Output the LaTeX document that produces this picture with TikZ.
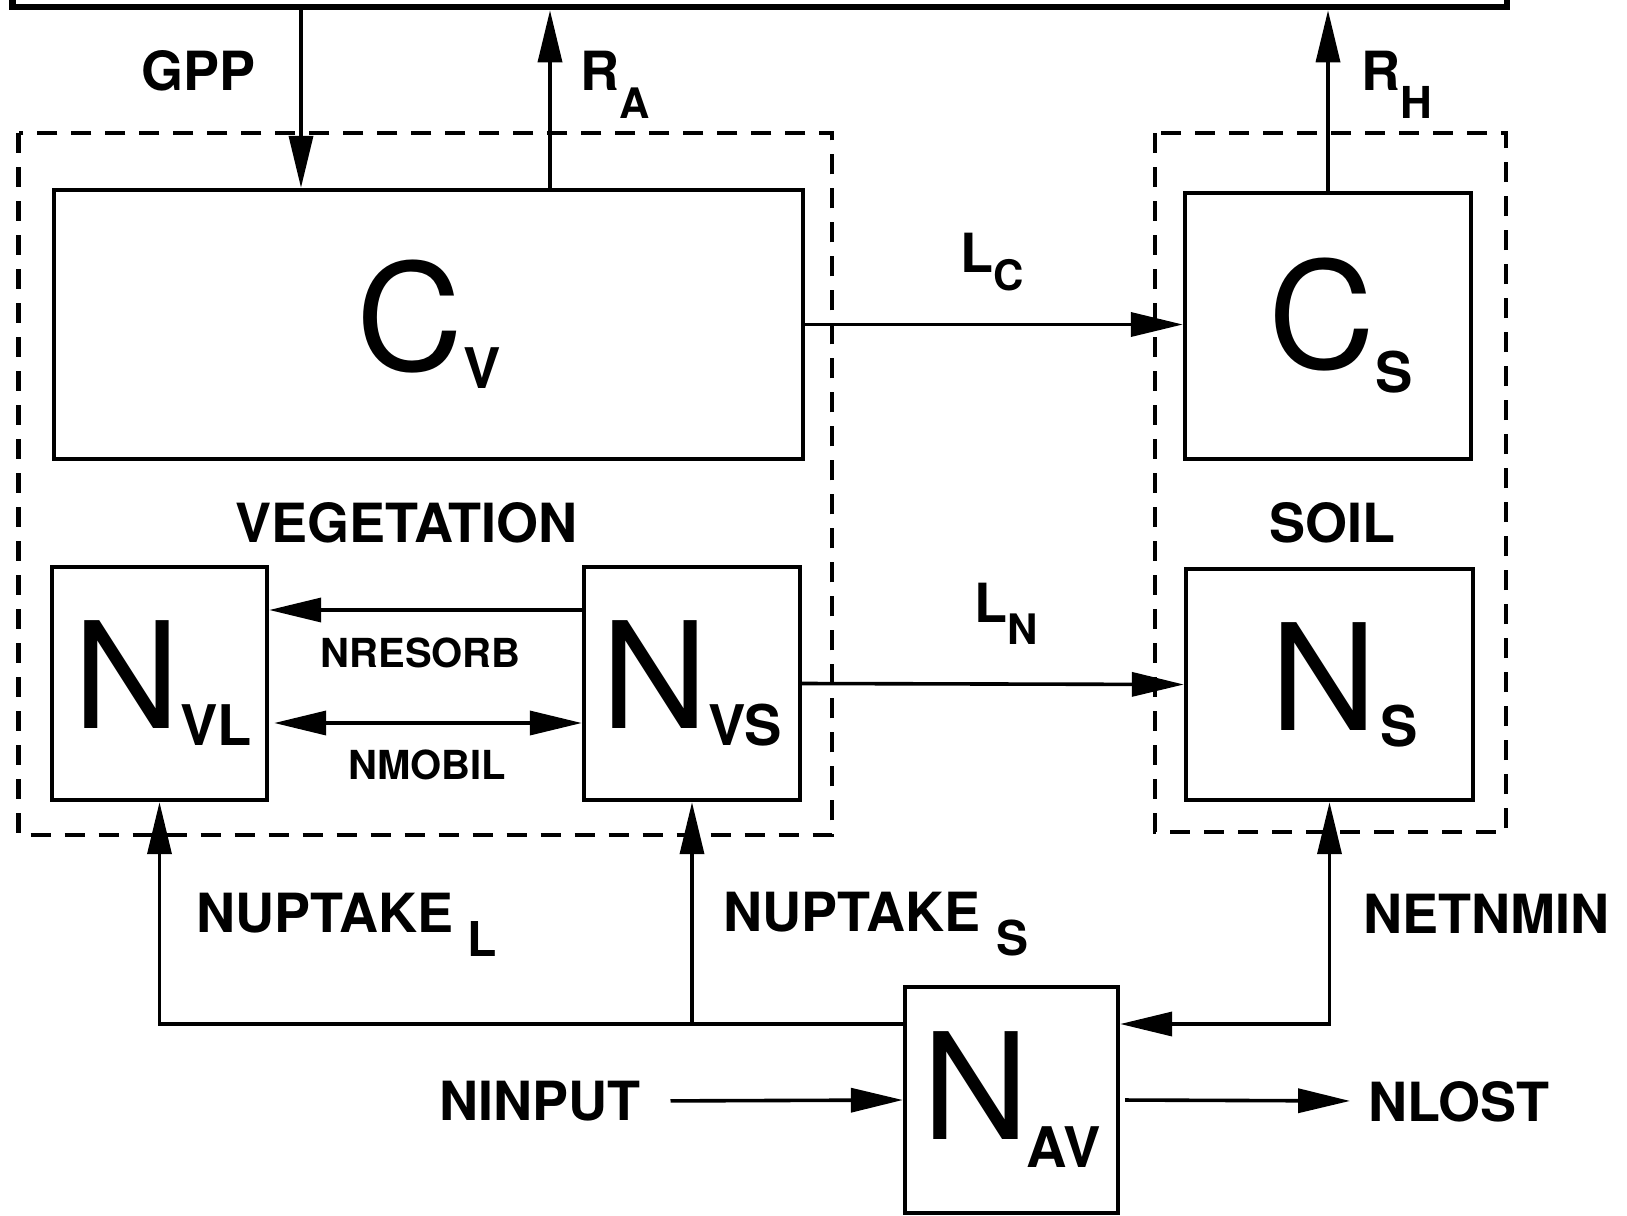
\documentclass[tikz,border=0pt]{standalone}
\usepackage{fontspec}
\setmainfont{TeX Gyre Heros}
\usetikzlibrary{arrows.meta}
\newcommand{\lowsub}[3]{\raisebox{-#1}{\fontsize{#2}{#2}\selectfont #3}}
\tikzset{
  pool/.style={draw,line width=2.2pt,inner sep=0pt,%
    font=\fontsize{74}{74}\selectfont},
  group/.style={draw,line width=2.4pt,dash pattern=on 10pt off 7pt},
  flow/.style={-{Triangle[length=26pt,width=12pt]},line width=1.8pt},
  flowboth/.style={{Triangle[length=26pt,width=12pt]}-{Triangle[length=26pt,width=12pt]},line width=1.8pt},
  lbl/.style={inner sep=0pt,font=\fontsize{27}{27}\selectfont\bfseries},
  smalllbl/.style={lbl,font=\fontsize{20}{20}\selectfont\bfseries},
}
\begin{document}
\begin{tikzpicture}[x=0.5pt,y=-0.5pt]
\useasboundingbox (0,0) rectangle (1627,1215);
% atmosphere, cut off at the top
\node[draw,line width=3.3pt,minimum width=747.25pt,minimum height=200pt] (atm) at (759.75,-193) {};
% pools
\node[pool,minimum width=374.5pt,minimum height=134.5pt] (Cv) at (428.5,324.5) {C\lowsub{9pt}{28}{\bfseries V}};
\node[pool,minimum width=143pt,minimum height=133pt] (Cs) at (1328,326) {\hspace*{13pt}C\lowsub{12pt}{28}{\bfseries S}};
\node[pool,minimum width=107.5pt,minimum height=116.5pt] (Nvl) at (159.5,683.5) {\hspace*{3pt}N\lowsub{8.5pt}{28}{\bfseries VL}};
\node[pool,minimum width=108pt,minimum height=116.5pt] (Nvs) at (692,683.5) {N\lowsub{8.5pt}{28}{\bfseries VS}};
\node[pool,minimum width=143.5pt,minimum height=115.5pt] (Ns) at (1329.5,684.5) {\hspace*{15pt}N\hspace{1.5pt}\lowsub{8pt}{28}{\bfseries S}};
\node[pool,minimum width=106.5pt,minimum height=113pt] (Nav) at (1011.5,1100) {N\hspace{-1pt}\lowsub{14pt}{28}{\bfseries AV}};
% dashed groups
\draw[group] (18.7,133) rectangle (832,835);
\draw[group] (1155,133) rectangle (1506,832);
% labels
\node[lbl] (gpp) at (198.7,70.6) {GPP};
\node[lbl] (ra) at (614.8,84.6) {R\lowsub{14pt}{21}{A}};
\node[lbl] (rh) at (1397,84.6) {R\lowsub{14pt}{22}{H}};
\node[lbl] (lc) at (992,262) {L\lowsub{9pt}{21}{C}};
\node[lbl] (veg) at (406.7,523) {VEGETATION};
\node[lbl] (soil) at (1332,523) {SOIL};
\node[smalllbl] (nresorb) at (420.7,652.7) {NRESORB};
\node[smalllbl] (nmobil) at (427,764.7) {NMOBIL};
\node[lbl] (ln) at (1006,614) {L\lowsub{11pt}{21}{N}};
\node[lbl] (uptl) at (346.6,924.5) {NUPTAKE\hspace{7pt}\lowsub{12pt}{24}{L}};
\node[lbl] (upts) at (876,924.5) {NUPTAKE\hspace{8pt}\lowsub{12pt}{24}{S}};
\node[lbl] (netnmin) at (1486,914) {NETNMIN};
\node[lbl] (ninput) at (539.6,1101.4) {NINPUT};
\node[lbl] (nlost) at (1459,1101.4) {NLOST};
% fluxes
\coordinate (gppx) at (301,0);
\coordinate (rax) at (550,0);
\draw[flow] (atm.south -| gppx) -- (Cv.north -| gppx);
\draw[flow] (Cv.north -| rax) -- (atm.south -| rax);
\draw[flow] (Cs.north) -- (Cs.north |- atm.south);
\draw[flow] (Cv.east) -- (Cv.east -| Cs.west);
\draw[flow] ([yshift=36.75pt]Nvs.west) -- ([yshift=36.75pt]Nvl.east);
\draw[flowboth,shorten <=2.5pt] ([yshift=-19.75pt]Nvl.east) -- ([yshift=-19.75pt]Nvs.west);
\draw[flow] (Nvs.east) -- (Ns.west);
\coordinate (upt) at ([yshift=38pt]Nav.west);
\draw[flow] (upt) -| (Nvl.south);
\draw[flow] (upt -| Nvs.south) -- (Nvs.south);
\draw[flowboth] (Ns.south) |- (upt -| Nav.east);
\draw[flow,shorten <=15pt] (ninput) -- (Nav.west);
\draw[flow,shorten <=2.5pt,shorten >=9pt] (Nav.east) -- (nlost);
\end{tikzpicture}
\end{document}
